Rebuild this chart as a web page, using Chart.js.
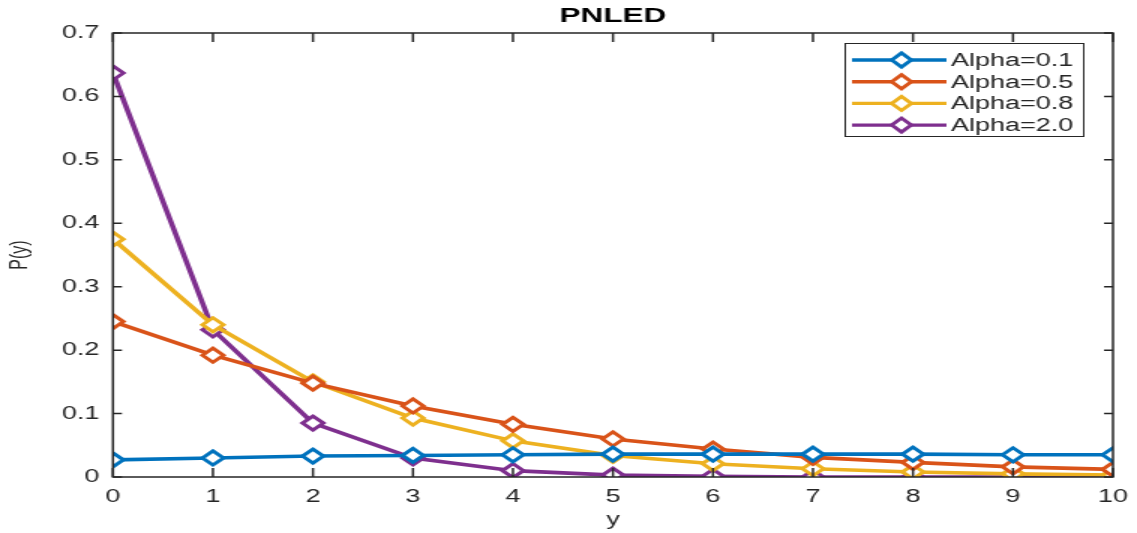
<!DOCTYPE html>
<html>
<head>
<meta charset="utf-8">
<script src="https://cdn.jsdelivr.net/npm/chart.js@4/dist/chart.umd.min.js"></script>
<style>
  html, body { margin: 0; padding: 0; background: #fff; overflow: hidden; }
  /* the source figure is stretched sideways, so the chart is drawn narrow and widened */
  #wrap { width: 758px; height: 533px; transform: scaleX(1.5); transform-origin: 0 0; }
</style>
</head>
<body>
<div id="wrap"><canvas id="pnledChart"></canvas></div>
<script>
// values
const yValues = [0, 1, 2, 3, 4, 5, 6, 7, 8, 9, 10];
const alpha01 = [0.027, 0.030, 0.033, 0.034, 0.035, 0.036, 0.036, 0.036, 0.036, 0.035, 0.035];
const alpha05 = [0.245, 0.192, 0.148, 0.112, 0.083, 0.060, 0.044, 0.031, 0.023, 0.016, 0.012];
const alpha08 = [0.375, 0.240, 0.150, 0.093, 0.057, 0.034, 0.021, 0.013, 0.008, 0.005, 0.003];
const alpha20 = [0.637, 0.232, 0.085, 0.030, 0.010, 0.003, 0.001, 0.000, 0.000, 0.000, 0.000];
const seriesLabels = ['Alpha=0.1', 'Alpha=0.5', 'Alpha=0.8', 'Alpha=2.0'];
const yTicks = [0, 0.1, 0.2, 0.3, 0.4, 0.5, 0.6, 0.7];

const colors = ['#0072BD', '#D95319', '#EDB120', '#7E2F8E'];
const axisColor = '#262626';
const fontFam = 'Liberation Sans, Arial, sans-serif';

function toPoints(vals) {
    return vals.map((v, i) => ({ x: yValues[i], y: v }));
}

function makeSet(label, vals, color) {
    return {
        label: label,
        data: toPoints(vals),
        borderColor: color,
        backgroundColor: '#ffffff',
        borderWidth: 3.6,
        pointStyle: 'rectRot',
        pointRadius: 7,
        pointBorderWidth: 3,
        pointBackgroundColor: '#ffffff',
        pointBorderColor: color,
        tension: 0
    };
}

// MATLAB-like box, inward ticks, title and legend inside the axes
const matlabAxes = {
    id: 'matlabAxes',
    afterDatasetsDraw(chart) {
        const ctx = chart.ctx;
        const a = chart.chartArea;
        const xs = chart.scales.x;
        const ys = chart.scales.y;
        ctx.save();
        ctx.strokeStyle = axisColor;
        ctx.lineWidth = 1.5;
        ctx.strokeRect(a.left, a.top, a.right - a.left, a.bottom - a.top);
        ctx.beginPath();
        xs.ticks.forEach(t => {
            const px = xs.getPixelForValue(t.value);
            ctx.moveTo(px, a.bottom); ctx.lineTo(px, a.bottom - 9);
            ctx.moveTo(px, a.top); ctx.lineTo(px, a.top + 9);
        });
        ys.ticks.forEach(t => {
            const py = ys.getPixelForValue(t.value);
            ctx.moveTo(a.left, py); ctx.lineTo(a.left + 6, py);
            ctx.moveTo(a.right, py); ctx.lineTo(a.right - 6, py);
        });
        ctx.stroke();

        // title centred over the axes
        ctx.fillStyle = '#000000';
        ctx.font = 'bold 21px ' + fontFam;
        ctx.textAlign = 'center';
        ctx.textBaseline = 'middle';
        ctx.fillText('PNLED', (a.left + a.right) / 2, 16);

        // legend
        const bx = 563, by = 43, bw = 159, bh = 93;
        ctx.fillStyle = '#ffffff';
        ctx.fillRect(bx, by, bw, bh);
        ctx.lineWidth = 1;
        ctx.strokeStyle = axisColor;
        ctx.strokeRect(bx + 0.5, by + 0.5, bw, bh);
        ctx.font = '18px ' + fontFam;
        ctx.textAlign = 'left';
        chart.data.datasets.forEach((ds, i) => {
            const cy = by + 17 + i * 21.7;
            const mx = bx + 38;
            ctx.strokeStyle = ds.borderColor;
            ctx.lineWidth = 3.4;
            ctx.beginPath();
            ctx.moveTo(bx + 5, cy); ctx.lineTo(bx + 68, cy);
            ctx.stroke();
            ctx.lineWidth = 3;
            ctx.beginPath();
            ctx.moveTo(mx - 6.5, cy); ctx.lineTo(mx, cy - 7);
            ctx.lineTo(mx + 6.5, cy); ctx.lineTo(mx, cy + 7);
            ctx.closePath();
            ctx.fillStyle = '#ffffff';
            ctx.fill();
            ctx.stroke();
            ctx.fillStyle = axisColor;
            ctx.fillText(ds.label, bx + 71, cy + 1);
        });
        ctx.restore();
    }
};

const ctx = document.getElementById('pnledChart').getContext('2d');
const pnledChart = new Chart(ctx, {
    type: 'line',
    data: {
        datasets: [
            makeSet(seriesLabels[0], alpha01, colors[0]),
            makeSet(seriesLabels[1], alpha05, colors[1]),
            makeSet(seriesLabels[2], alpha08, colors[2]),
            makeSet(seriesLabels[3], alpha20, colors[3])
        ]
    },
    options: {
        responsive: true,
        maintainAspectRatio: false,
        animation: false,
        layout: {
            padding: { left: 0, right: 16, top: 33, bottom: 0 }
        },
        plugins: {
            legend: { display: false },
            tooltip: { enabled: false },
            title: { display: false }
        },
        scales: {
            x: {
                type: 'linear',
                min: 0,
                max: 10,
                afterFit(scale) {
                    scale.height = 56;
                    scale.paddingLeft = 0;
                    scale.paddingRight = 0;
                },
                ticks: {
                    stepSize: 1,
                    color: axisColor,
                    font: { family: fontFam, size: 18 },
                    padding: 9
                },
                grid: { display: false, drawTicks: false },
                border: { display: false },
                title: {
                    display: true,
                    text: 'y',
                    color: axisColor,
                    font: { family: fontFam, size: 18 },
                    padding: { top: 0, bottom: 2 }
                }
            },
            y: {
                min: 0,
                max: 0.7,
                afterBuildTicks(scale) {
                    scale.ticks = yTicks.map(v => ({ value: v }));
                },
                afterFit(scale) {
                    scale.width = 75.3;
                },
                ticks: {
                    color: axisColor,
                    font: { family: fontFam, size: 18 },
                    padding: 9,
                    callback: v => (v === 0 ? '0' : v.toFixed(1))
                },
                grid: { display: false, drawTicks: false },
                border: { display: false },
                title: {
                    display: true,
                    text: 'P(y)',
                    color: axisColor,
                    font: { family: fontFam, size: 16 },
                    padding: { top: 4, bottom: 0 }
                }
            }
        }
    },
    plugins: [matlabAxes]
});
</script>
</body>
</html>
